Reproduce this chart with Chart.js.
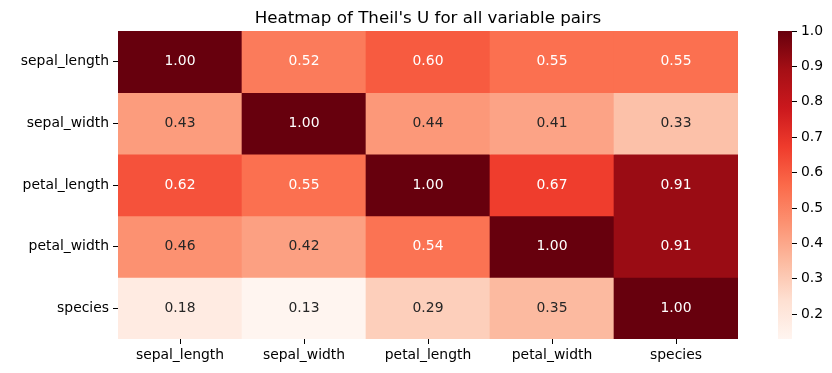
<!DOCTYPE html>
<html>
<head>
<meta charset="utf-8">
<title>Theil's U heatmap</title>
<script src="https://cdn.jsdelivr.net/npm/chart.js@4.4.0/dist/chart.umd.min.js"></script>
<style>
  html, body { margin: 0; padding: 0; background: #fff; }
  #wrap { position: relative; width: 832px; height: 373px; }
  #heat { position: absolute; left: 0; top: 0; }
  #cbar { position: absolute; left: 760px; top: 0; }
</style>
</head>
<body>
<div id="wrap">
  <canvas id="heat" width="832" height="373"></canvas>
  <canvas id="cbar" width="72" height="373"></canvas>
</div>
<script>
// Chart data
const chartTitle = "Heatmap of Theil's U for all variable pairs";
const variables = ['sepal_length', 'sepal_width', 'petal_length', 'petal_width', 'species'];

// one row per variable, columns in the same order
const uSepalLength = [1.00, 0.52, 0.60, 0.55, 0.55];
const uSepalWidth  = [0.43, 1.00, 0.44, 0.41, 0.33];
const uPetalLength = [0.62, 0.55, 1.00, 0.67, 0.91];
const uPetalWidth  = [0.46, 0.42, 0.54, 1.00, 0.91];
const uSpecies     = [0.18, 0.13, 0.29, 0.35, 1.00];

const colorbarTicks = [0.2, 0.3, 0.4, 0.5, 0.6, 0.7, 0.8, 0.9, 1.0];

const rows = [uSepalLength, uSepalWidth, uPetalLength, uPetalWidth, uSpecies];
const vmin = Math.min(...rows.flat());
const vmax = Math.max(...rows.flat());

const FONT = 'DejaVu Sans';
const TICK_SIZE = 13.9;

// matplotlib "Reds" colormap
const redsStops = [
    [255, 245, 240], [254, 224, 210], [252, 187, 161],
    [252, 146, 114], [251, 106, 74], [239, 59, 44],
    [203, 24, 29], [165, 15, 21], [103, 0, 13]
];

function rgbStr(c) {
    return 'rgb(' + c[0] + ',' + c[1] + ',' + c[2] + ')';
}

function redsColor(v) {
    let t = (v - vmin) / (vmax - vmin);
    t = Math.max(0, Math.min(1, t)) * (redsStops.length - 1);
    const i = Math.min(Math.floor(t), redsStops.length - 2);
    const f = t - i;
    return redsStops[i].map((a, k) => Math.round(a + (redsStops[i + 1][k] - a) * f));
}

// same rule as seaborn: dark text on light cells, white on dark ones
function textColor(rgb) {
    const lin = rgb.map(c => {
        c = c / 255;
        return c <= 0.03928 ? c / 12.92 : Math.pow((c + 0.055) / 1.055, 2.4);
    });
    const lum = 0.2126 * lin[0] + 0.7152 * lin[1] + 0.0722 * lin[2];
    return lum > 0.408 ? '#262626' : '#ffffff';
}

// Write the value in the middle of every cell
const cellText = {
    id: 'cellText',
    afterDatasetsDraw(chart) {
        const ctx = chart.ctx;
        ctx.save();
        ctx.font = TICK_SIZE + 'px "' + FONT + '"';
        ctx.textAlign = 'center';
        ctx.textBaseline = 'middle';
        chart.data.datasets.forEach((ds, i) => {
            const meta = chart.getDatasetMeta(i);
            meta.data.forEach((bar, j) => {
                const v = ds.values[j];
                ctx.fillStyle = textColor(redsColor(v));
                ctx.fillText(v.toFixed(2), bar.x, (bar.y + bar.base) / 2);
            });
        });
        ctx.restore();
    }
};

// Title centred over the plot area
const plotTitle = {
    id: 'plotTitle',
    afterDraw(chart) {
        const ctx = chart.ctx;
        const area = chart.chartArea;
        ctx.save();
        ctx.font = '16.7px "' + FONT + '"';
        ctx.fillStyle = '#000';
        ctx.textAlign = 'center';
        ctx.textBaseline = 'alphabetic';
        ctx.fillText(chartTitle, (area.left + area.right) / 2, 23);
        ctx.restore();
    }
};

const n = variables.length;

const datasets = rows.map((vals, i) => ({
    label: variables[i],
    data: vals.map(() => [n - 1 - i, n - i]),
    values: vals,
    backgroundColor: vals.map(v => rgbStr(redsColor(v))),
    borderWidth: 0,
    barPercentage: 1,
    categoryPercentage: 1,
    grouped: false
}));

new Chart(document.getElementById('heat'), {
    type: 'bar',
    data: { labels: variables, datasets: datasets },
    options: {
        responsive: false,
        animation: false,
        layout: { padding: { top: 31, right: 94, left: 0, bottom: 0 } },
        scales: {
            x: {
                type: 'category',
                offset: true,
                afterFit: s => { s.height = 34; },
                grid: { offset: false, drawOnChartArea: false, drawTicks: true, tickLength: 5, color: '#000', lineWidth: 1 },
                border: { display: false },
                ticks: { color: '#000', padding: 3, maxRotation: 0, font: { family: FONT, size: TICK_SIZE } }
            },
            y: {
                type: 'linear',
                min: 0,
                max: n,
                afterFit: s => { s.width = 118; },
                afterBuildTicks: s => {
                    s.ticks = variables.map((_, i) => ({ value: n - 0.5 - i }));
                },
                grid: { drawOnChartArea: false, drawTicks: true, tickLength: 5, color: '#000', lineWidth: 1 },
                border: { display: false },
                ticks: {
                    color: '#000',
                    padding: 4,
                    font: { family: FONT, size: TICK_SIZE },
                    callback: value => variables[Math.round(n - 0.5 - value)]
                }
            }
        },
        plugins: {
            legend: { display: false },
            tooltip: { enabled: false },
            title: { display: false }
        }
    },
    plugins: [cellText, plotTitle]
});

// Colorbar
new Chart(document.getElementById('cbar'), {
    type: 'bar',
    data: {
        labels: [''],
        datasets: [{
            data: [[vmin, vmax]],
            backgroundColor: function(context) {
                const chart = context.chart;
                const area = chart.chartArea;
                if (!area) return null;
                const g = chart.ctx.createLinearGradient(0, area.bottom, 0, area.top);
                redsStops.forEach((c, k) => g.addColorStop(k / (redsStops.length - 1), rgbStr(c)));
                return g;
            },
            borderWidth: 0,
            barPercentage: 1,
            categoryPercentage: 1
        }]
    },
    options: {
        responsive: false,
        animation: false,
        layout: { padding: { left: 18, top: 31, bottom: 34, right: 0 } },
        scales: {
            x: { display: false },
            y: {
                position: 'right',
                min: vmin,
                max: vmax,
                afterFit: s => { s.width = 40; },
                afterBuildTicks: s => {
                    s.ticks = colorbarTicks.map(v => ({ value: v }));
                },
                grid: { drawOnChartArea: false, drawTicks: true, tickLength: 5, color: '#000', lineWidth: 1 },
                border: { display: false },
                ticks: {
                    color: '#000',
                    padding: 4,
                    font: { family: FONT, size: TICK_SIZE },
                    callback: value => value.toFixed(1)
                }
            }
        },
        plugins: {
            legend: { display: false },
            tooltip: { enabled: false }
        }
    }
});
</script>
</body>
</html>
